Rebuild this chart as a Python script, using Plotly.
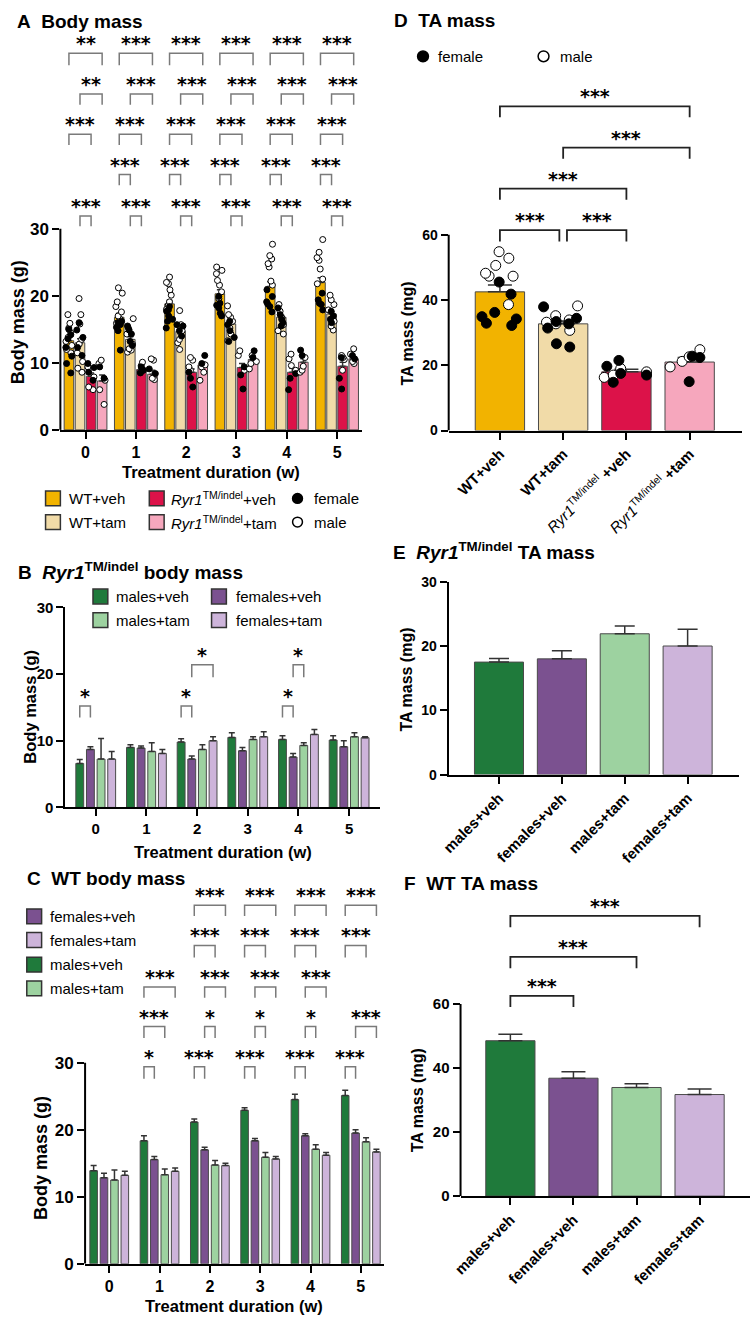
import plotly.graph_objects as go

W, H = 754, 1330
FONT = "Liberation Sans, Arial, sans-serif"
STAR_FONT = "DejaVu Sans"

# ---------------- colours ----------------
C_WT_VEH = "#F2B300"
C_WT_TAM = "#F1DBA8"
C_RYR_VEH = "#DC1249"
C_RYR_TAM = "#F6A7BD"
C_M_VEH = "#1F7A3B"
C_F_VEH = "#7B5190"
C_M_TAM = "#9DD2A0"
C_F_TAM = "#CDB4DA"
BAR_EDGE = "#4a4a4a"
ERR = "#333333"
BRK_GRAY = "#7a7a7a"
BRK_DARK = "#222222"

# ---------------- data ----------------
weeks = [0, 1, 2, 3, 4, 5]

# Panel A: body mass by genotype/treatment
A_groups = ["WT+veh", "WT+tam", "Ryr1+veh", "Ryr1+tam"]
A_wt_veh_mean = [13.3, 16.8, 18.8, 20.3, 21.4, 22.0]
A_wt_veh_sem = [0.6, 0.6, 0.5, 0.6, 0.7, 0.7]
A_wt_tam_mean = [13.0, 13.5, 14.7, 15.8, 16.8, 17.3]
A_wt_tam_sem = [0.6, 0.4, 0.3, 0.3, 0.3, 0.3]
A_ryr_veh_mean = [8.0, 9.0, 8.6, 9.3, 8.6, 9.5]
A_ryr_veh_sem = [0.5, 0.2, 0.5, 0.6, 0.6, 0.6]
A_ryr_tam_mean = [7.3, 8.3, 9.7, 10.5, 10.1, 10.6]
A_ryr_tam_sem = [0.9, 0.6, 0.4, 0.3, 0.5, 0.3]

A_wt_veh_f = [[15.0, 14.2, 13.6, 12.3, 11.0, 9.9, 8.5], [16.2, 16.0, 15.7, 15.3, 14.8, 11.9],
              [18.4, 17.9, 17.7, 17.0, 16.5, 16.2, 15.2], [19.9, 18.9, 18.6, 18.2, 17.4, 17.0],
              [20.9, 19.9, 19.1, 18.8, 18.4, 17.6], [20.4, 19.4, 18.9, 18.7, 17.9]]
A_wt_veh_m = [[17.2, 15.9, 15.2, 14.5, 13.8, 13.2, 12.6, 12.0, 11.5], [21.2, 20.4, 19.1, 18.4, 17.6, 17.0, 16.5, 15.9],
              [22.8, 22.0, 21.8, 20.9, 20.1, 19.1, 18.6, 18.0], [24.3, 23.8, 23.3, 22.3, 21.6, 20.6, 19.6],
              [27.7, 26.0, 25.5, 24.8, 24.3, 22.2, 21.6], [28.4, 26.5, 25.7, 25.3, 24.0, 22.5, 21.8]]
A_wt_tam_f = [[16.0, 14.9, 13.8, 12.3, 11.1], [15.5, 14.9, 14.3, 13.2, 12.6], [15.7, 15.5, 14.8, 14.0],
              [16.2, 15.7, 14.8, 13.8, 13.2], [18.2, 17.2, 16.5, 16.0, 15.5], [17.7, 17.0, 16.5, 16.0]]
A_wt_tam_m = [[19.6, 17.2, 15.8, 13.5, 12.8, 11.5, 10.2, 9.2, 8.6], [16.6, 15.2, 14.3, 12.8, 12.1, 11.9, 11.6],
              [17.8, 15.7, 14.8, 14.5, 13.5, 13.0, 12.0], [18.5, 17.2, 16.8, 16.2, 15.2, 14.3, 13.3],
              [18.7, 17.7, 16.7, 15.7, 14.8, 14.3], [20.1, 19.4, 18.7, 17.9, 16.2, 15.5, 14.9]]
A_ryr_veh_f = [[9.9, 9.3, 8.6, 7.4], [9.4, 8.9, 8.5], [8.6, 7.7, 6.4], [9.4, 8.2, 6.1], [8.4, 7.7, 6.0], [10.8, 7.7, 6.1]]
A_ryr_veh_m = [[9.4, 7.9, 6.4, 6.0], [10.1, 9.6, 8.9, 8.6], [10.8, 10.4, 9.4, 8.9], [11.8, 11.1, 8.9],
               [11.3, 10.6, 9.6, 8.9], [11.1, 10.8, 10.5, 8.9]]
A_ryr_tam_f = [[9.4, 7.7], [9.1, 8.4], [11.1, 9.9], [11.8, 10.8], [11.9, 11.1], [11.1, 10.6]]
A_ryr_tam_m = [[10.4, 9.9, 7.4, 6.0, 3.8], [10.6, 10.4, 7.7, 7.5], [9.7, 9.4, 8.6, 7.4], [11.1, 10.2, 9.9, 9.1],
               [10.8, 9.5, 8.9, 8.6], [12.1, 11.3, 10.2, 9.9]]

# significance rows for A: (group i, group j, weeks, labels)
A_sig = [
    (0, 3, weeks, ["**", "***", "***", "***", "***", "***"]),
    (1, 3, weeks, ["**", "***", "***", "***", "***", "***"]),
    (0, 2, weeks, ["***"] * 6),
    (0, 1, [1, 2, 3, 4, 5], ["***"] * 5),
    (1, 2, weeks, ["***"] * 6),
]

# Panel B: Ryr1 body mass by sex
B_m_veh = [6.6, 9.0, 9.8, 10.5, 10.2, 10.1]
B_m_veh_sem = [0.6, 0.4, 0.5, 0.7, 0.55, 0.65]
B_f_veh = [8.7, 8.9, 7.25, 8.5, 7.55, 9.1]
B_f_veh_sem = [0.4, 0.3, 0.45, 0.5, 0.55, 0.9]
B_m_tam = [7.25, 8.4, 8.7, 10.2, 9.3, 10.6]
B_m_tam_sem = [3.1, 1.3, 0.7, 0.4, 0.4, 0.6]
B_f_tam = [7.25, 8.1, 10.0, 10.6, 10.95, 10.45]
B_f_tam_sem = [1.15, 0.6, 0.6, 0.75, 0.75, 0.15]
B_sig = [(0, 1, 0, "*", 0), (0, 1, 2, "*", 0), (0, 1, 4, "*", 0), (1, 3, 2, "*", 1), (1, 2, 4, "*", 1)]

# Panel C: WT body mass by sex
C_m_veh = [13.9, 18.35, 21.15, 22.9, 24.5, 25.1]
C_m_veh_sem = [0.75, 0.75, 0.45, 0.4, 0.8, 0.8]
C_f_veh = [12.85, 15.55, 17.0, 18.35, 19.1, 19.5]
C_f_veh_sem = [0.65, 0.45, 0.4, 0.35, 0.3, 0.5]
C_m_tam = [12.5, 13.3, 14.75, 15.9, 17.1, 18.2]
C_m_tam_sem = [1.5, 0.85, 0.65, 0.7, 0.65, 0.6]
C_f_tam = [13.2, 13.8, 14.65, 15.65, 16.2, 16.7]
C_f_tam_sem = [0.6, 0.5, 0.35, 0.35, 0.4, 0.4]
# (row, group i, group j, week, label)
C_sig = [
    (0, 0, 3, 2, "***"), (0, 0, 3, 3, "***"), (0, 0, 3, 4, "***"), (0, 0, 3, 5, "***"),
    (1, 0, 2, 2, "***"), (1, 0, 2, 3, "***"), (1, 0, 2, 4, "***"), (1, 0, 2, 5, "***"),
    (2, 0, 3, 1, "***"), (2, 1, 3, 2, "***"), (2, 1, 3, 3, "***"), (2, 1, 3, 4, "***"),
    (3, 0, 2, 1, "***"), (3, 1, 2, 2, "*"), (3, 1, 2, 3, "*"), (3, 1, 2, 4, "*"), (3, 1, 3, 5, "***"),
    (4, 0, 1, 1, "*"), (4, 0, 1, 2, "***"), (4, 0, 1, 3, "***"), (4, 0, 1, 4, "***"), (4, 0, 1, 5, "***"),
]

# Panel D: TA mass
D_labels = ["<b>WT+veh</b>", "<b>WT+tam</b>",
            "<i>Ryr1</i><sup>TM/indel</sup> <b>+veh</b>", "<i>Ryr1</i><sup>TM/indel</sup> <b>+tam</b>"]
D_mean = [42.5, 32.7, 18.0, 21.0]
D_sem = [2.1, 0.9, 0.8, 1.4]
D_f = [[45.5, 41.8, 36.2, 34.9, 34.2, 32.9, 32.2], [37.9, 34.4, 33.4, 32.7, 31.4, 26.6, 25.6],
       [21.5, 19.7, 17.5, 17.0, 14.8], [22.8, 22.4, 15.0]]
D_m = [[54.8, 52.8, 50.6, 48.2, 47.3, 47.3, 38.6], [38.2, 35.2, 33.9, 33.2, 32.7, 30.7],
       [19.0, 18.0, 17.0, 16.3], [24.8, 22.6, 21.2, 19.5]]
D_sig = [(0, 3, 0, "***"), (1, 3, 1, "***"), (0, 2, 2, "***"), (0, 1, 3, "***"), (1, 2, 3, "***")]

# Panel E: Ryr1 TA mass by sex
E_labels = ["<b>males+veh</b>", "<b>females+veh</b>", "<b>males+tam</b>", "<b>females+tam</b>"]
E_mean = [17.5, 18.0, 21.9, 20.0]
E_sem = [0.55, 1.25, 1.2, 2.6]

# Panel F: WT TA mass by sex
F_labels = ["<b>males+veh</b>", "<b>females+veh</b>", "<b>males+tam</b>", "<b>females+tam</b>"]
F_mean = [48.5, 36.8, 33.9, 31.7]
F_sem = [2.0, 2.0, 1.2, 1.7]
F_sig = [(0, 3, 0, "***"), (0, 2, 1, "***"), (0, 1, 2, "***")]

# ---------------- layout helpers ----------------
def fx(px):
    return px / W


def fy(py):
    return 1 - py / H


fig = go.Figure()
shapes = []
annotations = []


def text(t, x, y, size, xanchor="left", yanchor="middle", angle=0, bold=False, family=FONT,
         xref="paper", yref="paper", yshift=0):
    annotations.append(dict(text=t, x=x, y=y, xref=xref, yref=yref, xanchor=xanchor, yanchor=yanchor,
                            showarrow=False, textangle=angle, yshift=yshift,
                            font=dict(family=family, size=size, color="black",
                                      weight="bold" if bold else "normal")))


def add_bars(xax, yax, xs, means, sems, color, width, capw):
    fig.add_trace(go.Bar(x=xs, y=means, width=width, xaxis=xax, yaxis=yax,
                         marker=dict(color=color, line=dict(color=BAR_EDGE, width=1)),
                         error_y=dict(type="data", array=sems, arrayminus=[0] * len(sems),
                                      symmetric=False, color=ERR, thickness=1.5, width=capw),
                         showlegend=False, hoverinfo="x+y"))


def add_dots(xax, yax, xs, ys, filled, size, bw):
    fig.add_trace(go.Box(x=xs, y=ys, xaxis=xax, yaxis=yax, boxpoints="all", jitter=1.0, pointpos=0,
                         width=bw, fillcolor="rgba(0,0,0,0)", whiskerwidth=0,
                         line=dict(width=0, color="rgba(0,0,0,0)"),
                         marker=dict(size=size, color="black" if filled else "white",
                                     line=dict(color="black", width=1)),
                         showlegend=False, hoverinfo="y"))


def bracket(xref, yref, x1, x2, top, legs, label, color, lw, fs, yshift):
    shapes.append(dict(type="path", xref=xref, yref=yref,
                       path=f"M {x1},{legs} L {x1},{top} L {x2},{top} L {x2},{legs}",
                       line=dict(color=color, width=lw)))
    text(label, (x1 + x2) / 2, top, fs, xanchor="center", yanchor="bottom", family=STAR_FONT,
         bold=True, xref=xref, yref=yref, yshift=yshift)


def yline(ax, top):
    shapes.append(dict(type="line", xref=f"x{ax} domain", yref=f"y{ax}", x0=0, x1=0, y0=0, y1=top,
                       line=dict(color="black", width=2)))


def xaxis_cfg(dom_px, rng, anchor, tickvals, ticktext=None, size=15, angle=0, bold=True):
    d = dict(domain=[fx(dom_px[0]), fx(dom_px[1])], range=rng, anchor=anchor, showgrid=False,
             zeroline=False, showline=True, linecolor="black", linewidth=2, ticks="outside",
             ticklen=7, tickwidth=2, tickcolor="black", tickvals=tickvals, tickangle=angle,
             tickfont=dict(family=FONT, size=size, color="black", weight="bold" if bold else "normal"),
             fixedrange=True)
    if ticktext is not None:
        d["ticktext"] = ticktext
    return d


def yaxis_cfg(bot_px, top_px, rng, anchor, tickvals, showline, size=15):
    return dict(domain=[fy(bot_px), fy(top_px)], range=rng, anchor=anchor, showgrid=False,
                zeroline=False, showline=showline, linecolor="black", linewidth=2, ticks="outside",
                ticklen=7, tickwidth=2, tickcolor="black", tickvals=tickvals,
                tickfont=dict(family=FONT, size=size, color="black", weight="bold"), fixedrange=True)


# ================= Panel A =================
A_OFF = [-0.33, -0.11, 0.11, 0.33]
A_BW = 0.19
A_ppu = 204 / 30.0
A_top = (427 - 20) / A_ppu
A_means = [A_wt_veh_mean, A_wt_tam_mean, A_ryr_veh_mean, A_ryr_tam_mean]
A_sems = [A_wt_veh_sem, A_wt_tam_sem, A_ryr_veh_sem, A_ryr_tam_sem]
A_cols = [C_WT_VEH, C_WT_TAM, C_RYR_VEH, C_RYR_TAM]
A_fem = [A_wt_veh_f, A_wt_tam_f, A_ryr_veh_f, A_ryr_tam_f]
A_mal = [A_wt_veh_m, A_wt_tam_m, A_ryr_veh_m, A_ryr_tam_m]
for k in range(4):
    add_bars("x", "y", [w + A_OFF[k] for w in weeks], A_means[k], A_sems[k], A_cols[k], A_BW, 3)
for k in range(4):
    for pts, filled in ((A_mal[k], False), (A_fem[k], True)):
        xs, ys = [], []
        for wi, w in enumerate(weeks):
            for v in pts[wi]:
                xs.append(w + A_OFF[k])
                ys.append(v)
        add_dots("x", "y", xs, ys, filled, 6, 0.15)
A_rows = [(56.2, 54.4), (50.1, 48.5), (44.1, 42.5), (38.1, 36.5), (31.9, 30.4)]
for (gi, gj, wk, labs), (top, legs) in zip(A_sig, A_rows):
    for w, lab in zip(wk, labs):
        bracket("x", "y", w + A_OFF[gi], w + A_OFF[gj], top, legs, lab, BRK_GRAY, 1.5, 19, -3)
yline("", 30)

# ================= Panel B =================
B_OFF = [-0.315, -0.105, 0.105, 0.315]
B_BW = 0.155
B_means = [B_m_veh, B_f_veh, B_m_tam, B_f_tam]
B_sems = [B_m_veh_sem, B_f_veh_sem, B_m_tam_sem, B_f_tam_sem]
B_cols = [C_M_VEH, C_F_VEH, C_M_TAM, C_F_TAM]
for k in range(4):
    add_bars("x2", "y2", [w + B_OFF[k] for w in weeks], B_means[k], B_sems[k], B_cols[k], B_BW, 3)
B_rows = [(15.2, 13.5), (21.4, 19.5)]
for gi, gj, w, lab, r in B_sig:
    bracket("x2", "y2", w + B_OFF[gi], w + B_OFF[gj], B_rows[r][0], B_rows[r][1], lab, BRK_GRAY, 1.5, 19, -3)

# ================= Panel C =================
C_OFF = [-0.31, -0.104, 0.104, 0.31]
C_BW = 0.15
C_ppu = 204 / 30.0
C_top = (1273 - 885) / C_ppu
C_means = [C_m_veh, C_f_veh, C_m_tam, C_f_tam]
C_sems = [C_m_veh_sem, C_f_veh_sem, C_m_tam_sem, C_f_tam_sem]
C_cols = [C_M_VEH, C_F_VEH, C_M_TAM, C_F_TAM]
for k in range(4):
    add_bars("x3", "y3", [w + C_OFF[k] for w in weeks], C_means[k], C_sems[k], C_cols[k], C_BW, 3)
C_rows = [(53.5, 51.9), (47.5, 45.7), (41.3, 39.7), (35.4, 33.7), (29.4, 27.6)]
for r, gi, gj, w, lab in C_sig:
    bracket("x3", "y3", w + C_OFF[gi], w + C_OFF[gj], C_rows[r][0], C_rows[r][1], lab, BRK_GRAY, 1.5, 19, -3)
yline("3", 30)

# ================= Panel D =================
cats = [0, 1, 2, 3]
D_cols = [C_WT_VEH, C_WT_TAM, C_RYR_VEH, C_RYR_TAM]
D_ppu = (427.7 - 229) / 60.0
D_top = (427.7 - 80) / D_ppu
for k in range(4):
    add_bars("x4", "y4", [cats[k]], [D_mean[k]], [D_sem[k]], D_cols[k], 0.78, 12)
for pts, filled in ((D_m, False), (D_f, True)):
    xs, ys = [], []
    for k in range(4):
        for v in pts[k]:
            xs.append(cats[k])
            ys.append(v)
    add_dots("x4", "y4", xs, ys, filled, 10, 0.72)
D_rows = [(99.3, 96.0), (86.7, 83.3), (74.1, 70.7), (61.4, 57.9)]
D_GAP = 0.06
for gi, gj, r, lab in D_sig:
    x1 = cats[gi] + (D_GAP if (r == 3 and gi == 1) else 0)
    x2 = cats[gj] - (D_GAP if (r == 3 and gj == 1) else 0)
    bracket("x4", "y4", x1, x2, D_rows[r][0], D_rows[r][1], lab, BRK_DARK, 1.8, 19, -3)
yline("4", 60)

# ================= Panel E =================
E_cols = [C_M_VEH, C_F_VEH, C_M_TAM, C_F_TAM]
for k in range(4):
    add_bars("x5", "y5", [cats[k]], [E_mean[k]], [E_sem[k]], E_cols[k], 0.78, 10)

# ================= Panel F =================
F_cols = [C_M_VEH, C_F_VEH, C_M_TAM, C_F_TAM]
F_ppu = (1204.3 - 1009.3) / 60.0
F_top = (1204.3 - 895) / F_ppu
for k in range(4):
    add_bars("x6", "y6", [cats[k]], [F_mean[k]], [F_sem[k]], F_cols[k], 0.78, 12)
F_rows = [(87.5, 83.9), (74.7, 71.1), (62.5, 59.0)]
for gi, gj, r, lab in F_sig:
    bracket("x6", "y6", cats[gi], cats[gj], F_rows[r][0], F_rows[r][1], lab, BRK_DARK, 1.8, 19, -3)
yline("6", 60)

# ================= titles & axis titles =================
text("<b>A\u00a0 Body mass</b>", fx(6), fy(13), 19)
text("<b>B\u00a0 <i>Ryr1</i><sup>TM/indel</sup> body mass</b>", fx(7), fy(570), 19)
text("<b>C\u00a0 WT body mass</b>", fx(16), fy(882), 19)
text("<b>D\u00a0 TA mass</b>", fx(388), fy(12), 19)
text("<b>E\u00a0 <i>Ryr1</i><sup>TM/indel</sup> TA mass</b>", fx(387), fy(550), 19)
text("<b>F\u00a0 WT TA mass</b>", fx(398), fy(887), 19)

text("<b>Body mass (g)</b>", fx(10), fy(318), 18, xanchor="center", angle=-90)
text("<b>Treatment duration (w)</b>", fx(204), fy(470), 16.5, xanchor="center")
text("<b>Body mass (g)</b>", fx(21), fy(708), 16.5, xanchor="center", angle=-90)
text("<b>Treatment duration (w)</b>", fx(217), fy(855), 16.5, xanchor="center")
text("<b>Body mass (g)</b>", fx(33), fy(1166), 18, xanchor="center", angle=-90)
text("<b>Treatment duration (w)</b>", fx(228), fy(1316), 16.5, xanchor="center")
text("<b>TA mass (mg)</b>", fx(403), fy(329), 16, xanchor="center", angle=-90)
text("<b>TA mass (mg)</b>", fx(402), fy(680), 16, xanchor="center", angle=-90)
text("<b>TA mass (mg)</b>", fx(413), fy(1107), 16, xanchor="center", angle=-90)

# ================= manual legends =================
def legend_square(x0, yc, color, label, tx, size=15):
    shapes.append(dict(type="rect", xref="paper", yref="paper", x0=fx(x0), x1=fx(x0 + 15),
                       y0=fy(yc + 7.5), y1=fy(yc - 7.5), fillcolor=color,
                       line=dict(color="#333333", width=1.5)))
    text(label, fx(tx), fy(yc), size)


def legend_dot(cx, cy, r, filled, label, tx, size=15):
    shapes.append(dict(type="circle", xref="paper", yref="paper", x0=fx(cx - r), x1=fx(cx + r),
                       y0=fy(cy + r), y1=fy(cy - r), fillcolor="black" if filled else "white",
                       line=dict(color="black", width=1.5)))
    text(label, fx(tx), fy(cy), size)


RYR = "<i>Ryr1</i><sup>TM/indel</sup>"
legend_square(37, 496.5, C_WT_VEH, "WT+veh", 59)
legend_square(37, 520.5, C_WT_TAM, "WT+tam", 59)
legend_square(142, 496.5, C_RYR_VEH, RYR + "+veh", 162)
legend_square(142, 520.5, C_RYR_TAM, RYR + "+tam", 162)
legend_dot(292, 496.5, 5, True, "female", 307)
legend_dot(292, 520.5, 5, False, "male", 307)

legend_square(85, 596, C_M_VEH, "males+veh", 106)
legend_square(205, 596, C_F_VEH, "females+veh", 228)
legend_square(85, 620, C_M_TAM, "males+tam", 106)
legend_square(205, 620, C_F_TAM, "females+tam", 228)

legend_square(18, 920.5, C_F_VEH, "females+veh", 39)
legend_square(18, 944.5, C_F_TAM, "females+tam", 39)
legend_square(18, 969.5, C_M_VEH, "males+veh", 39)
legend_square(18, 993.5, C_M_TAM, "males+tam", 39)

legend_dot(419, 48, 5.5, True, "female", 432)
legend_dot(541, 48, 5.5, False, "male", 556)

# ================= axes =================
fig.update_layout(
    width=W, height=H, margin=dict(l=0, r=0, t=0, b=0),
    paper_bgcolor="white", plot_bgcolor="white",
    barmode="overlay", boxmode="overlay", showlegend=False,
    font=dict(family=FONT, color="black"),
    xaxis=xaxis_cfg((52, 357.5), [-0.5, 5.5], "y", weeks, size=16),
    yaxis=yaxis_cfg(427, 20, [0, A_top], "x", [0, 10, 20, 30], False, size=17),
    xaxis2=xaxis_cfg((57, 375), [-0.6, 5.6], "y2", weeks, size=15),
    yaxis2=yaxis_cfg(810, 607, [0, 30], "x2", [0, 10, 20, 30], True, size=15),
    xaxis3=xaxis_cfg((77, 380), [-0.48, 5.47], "y3", weeks, size=16),
    yaxis3=yaxis_cfg(1273, 885, [0, C_top], "x3", [0, 10, 20, 30], False, size=17),
    xaxis4=xaxis_cfg((445, 742), [-0.81, 3.83], "y4", cats, D_labels, size=15, angle=-45, bold=False),
    yaxis4=yaxis_cfg(427.7, 80, [0, D_top], "x4", [0, 20, 40, 60], False, size=14),
    xaxis5=xaxis_cfg((445, 739), [-0.8, 3.82], "y5", cats, E_labels, size=15, angle=-45, bold=False),
    yaxis5=yaxis_cfg(776.7, 581, [0, 30], "x5", [0, 10, 20, 30], True, size=14),
    xaxis6=xaxis_cfg((457, 750), [-0.79, 3.8], "y6", cats, F_labels, size=15, angle=-45, bold=False),
    yaxis6=yaxis_cfg(1204.3, 895, [0, F_top], "x6", [0, 20, 40, 60], False, size=15),
    shapes=shapes, annotations=annotations,
)

fig.write_html("out.html")
